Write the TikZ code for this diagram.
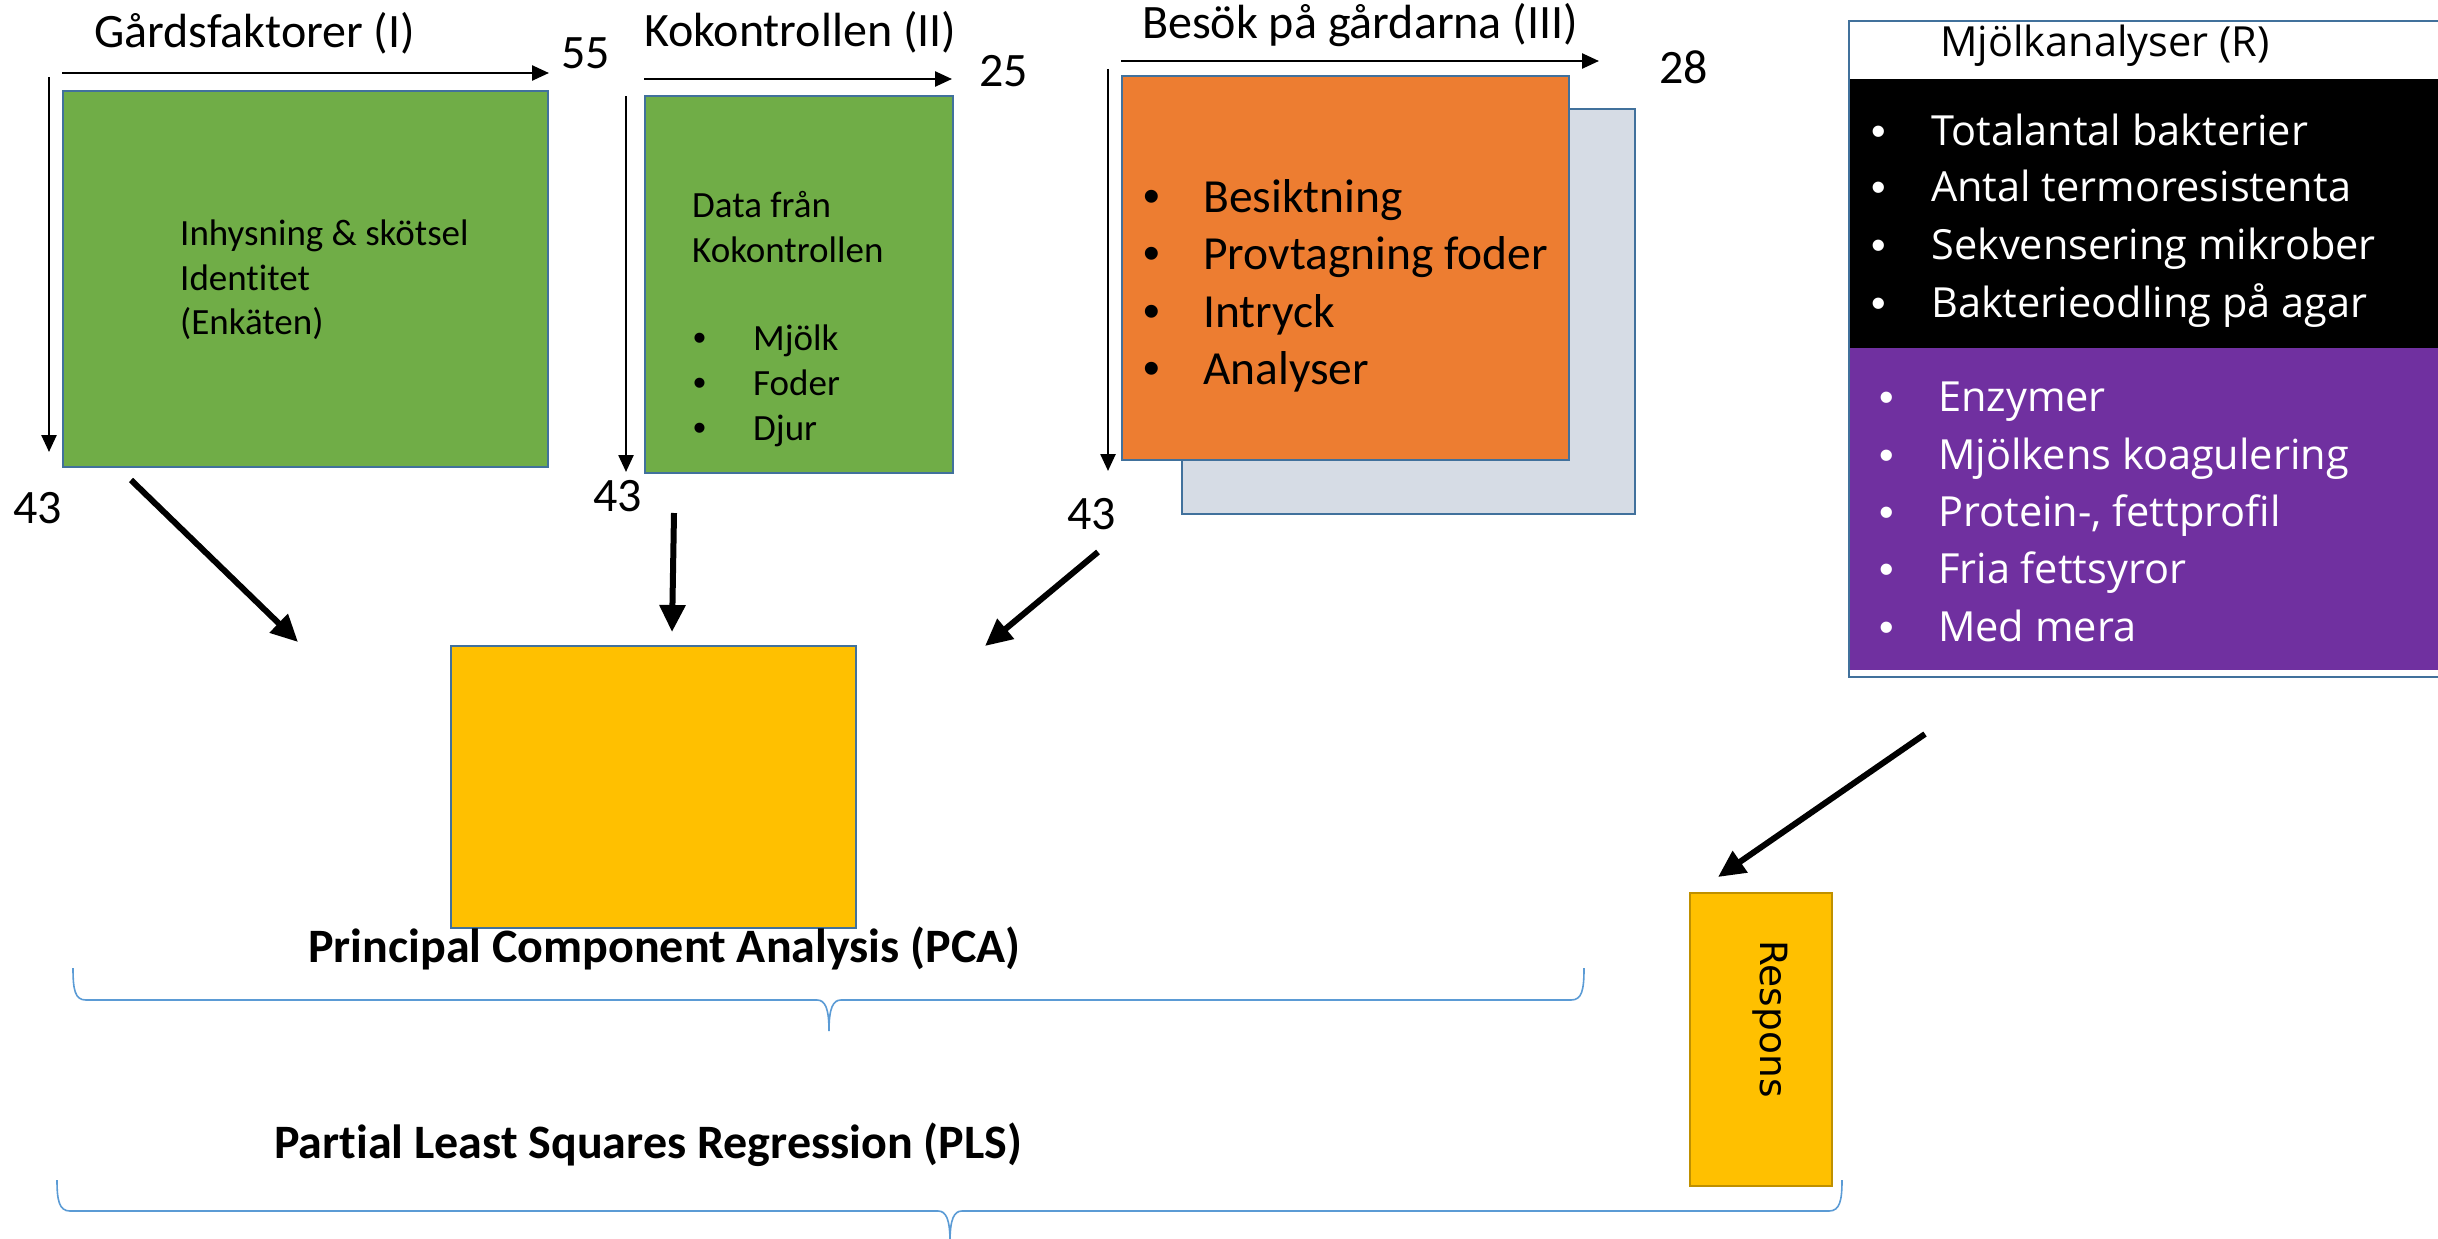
\documentclass[tikz,border=0pt]{standalone}
\usepackage{fontspec}
\setmainfont{Carlito}[Ligatures={NoCommon,NoContextual}]
\newfontfamily\osans{Open Sans}[Ligatures={NoCommon,NoContextual}]
\newfontfamily\dvs{DejaVu Sans}
\newfontfamily\bul{Liberation Sans}
\usetikzlibrary{arrows.meta}
\definecolor{cgreen}{HTML}{70AD47}
\definecolor{corange}{HTML}{ED7D31}
\definecolor{cshadow}{HTML}{D6DCE5}
\definecolor{cyellow}{HTML}{FFC000}
\definecolor{cpurple}{HTML}{7030A0}
\definecolor{cborder}{HTML}{41719C}
\definecolor{cgold}{HTML}{BF9000}
\definecolor{cbrace}{HTML}{5B9BD5}
\begin{document}
\begin{tikzpicture}[x=1pt,y=-1pt,
  box/.style={draw=cborder, line width=2pt, anchor=north west, inner sep=0pt},
  ttl/.style={anchor=base west, inner sep=0pt, font=\fontsize{48}{57}\selectfont},
  small/.style={anchor=base west, inner sep=0pt, font=\fontsize{37}{44}\selectfont},
  big/.style={anchor=base west, inner sep=0pt, font=\fontsize{47.5}{57}\selectfont},
  os/.style={anchor=base west, inner sep=0pt, text=white, font=\osans\fontsize{41.5}{50}\selectfont},
  bold/.style={anchor=base west, inner sep=0pt, font=\bfseries\fontsize{48}{57}\selectfont},
  axis/.style={line width=2.5pt, -{Triangle[length=17pt,width=15pt]}},
  flow/.style={line width=6pt, -{Triangle[length=27pt,width=25pt]}},
  brace/.style={draw=cbrace, line width=1.6pt}]
\useasboundingbox (0,0) rectangle (2438,1239);

% ---------- Block I ----------
\node[ttl] (t1) at (94,48) {Gårdsfaktorer (I)};
\coordinate (h1s) at (62,73); \coordinate (h1e) at (549,73);
\draw[axis] (h1s) -- (h1e);
\node[ttl] (n55) at (561,68) {55};
\coordinate (v1s) at (49,77); \coordinate (v1e) at (49,452);
\draw[axis] (v1s) -- (v1e);
\node[ttl] (n43a) at (13,523) {43};
\node[box, fill=cgreen, minimum width=485pt, minimum height=376pt] (g1) at (62,90) {};
\node[small] (g1a) at (180,245) {Inhysning \& skötsel};
\node[small] (g1b) at (180,290) {Identitet};
\node[small] (g1c) at (180,334) {(Enkäten)};

% ---------- Block II ----------
\node[ttl] (t2) at (644,47) {Kokontrollen (II)};
\coordinate (h2s) at (644,79); \coordinate (h2e) at (952,79);
\draw[axis] (h2s) -- (h2e);
\node[ttl] (n25) at (979,86) {25};
\coordinate (v2s) at (626,96); \coordinate (v2e) at (626,472);
\draw[axis] (v2s) -- (v2e);
\node[ttl] (n43b) at (593,511) {43};
\node[box, fill=cgreen, minimum width=308pt, minimum height=377pt] (g2) at (644,95) {};
\node[small] (g2a) at (692,217) {Data från};
\node[small] (g2b) at (692,262) {Kokontrollen};
\node[small, font=\bul\fontsize{37}{44}\selectfont] (g2c) at (693,350) {•};
\node[small] (g2d) at (753,350) {Mjölk};
\node[small, font=\bul\fontsize{37}{44}\selectfont] (g2e) at (693,395) {•};
\node[small] (g2f) at (753,395) {Foder};
\node[small, font=\bul\fontsize{37}{44}\selectfont] (g2g) at (693,440) {•};
\node[small] (g2h) at (753,440) {Djur};

% ---------- Block III ----------
\node[ttl] (t3) at (1142,39) {Besök på gårdarna (III)};
\coordinate (h3s) at (1121,61); \coordinate (h3e) at (1599,61);
\draw[axis] (h3s) -- (h3e);
\node[ttl] (n28) at (1659,84) {28};
\coordinate (v3s) at (1108,69); \coordinate (v3e) at (1108,471);
\draw[axis] (v3s) -- (v3e);
\node[ttl] (n43c) at (1067,529) {43};
\node[box, fill=cshadow, minimum width=453pt, minimum height=405pt] (sh) at (1181,108) {};
\node[box, fill=corange, minimum width=447pt, minimum height=384pt] (or) at (1121,75) {};
\tikzset{obul/.style={big, font=\bul\fontsize{47.5}{57}\selectfont}}
\node[obul] (o1b) at (1143,212) {•};
\node[big] (o1) at (1203,212) {Besiktning};
\node[obul] (o2b) at (1143,269) {•};
\node[big] (o2) at (1203,269) {Provtagning foder};
\node[obul] (o3b) at (1143,327) {•};
\node[big] (o3) at (1203,327) {Intryck};
\node[obul] (o4b) at (1143,384) {•};
\node[big] (o4) at (1203,384) {Analyser};

% ---------- Block R ----------
\node[box, fill=white, minimum width=600pt, minimum height=656pt] (rbox) at (1848,20) {};
\node[anchor=north west, fill=black, inner sep=0pt, minimum width=600pt, minimum height=269pt] (rblack) at (1850,79) {};
\node[anchor=north west, fill=cpurple, inner sep=0pt, minimum width=600pt, minimum height=322pt] (rpurple) at (1850,348) {};
\node[os, text=black] (tr) at (1940,57) {Mjölkanalyser (R)};
\tikzset{rbul/.style={os, font=\bul\fontsize{41.5}{50}\selectfont}}
\node[rbul] (k1b) at (1871,145) {•};
\node[os] (k1) at (1931,145) {Totalantal bakterier};
\node[rbul] (k2b) at (1871,201) {•};
\node[os] (k2) at (1931,201) {Antal termoresistenta};
\node[rbul] (k3b) at (1871,259) {•};
\node[os] (k3) at (1931,259) {Sekvensering mikrober};
\node[rbul] (k4b) at (1871,317) {•};
\node[os] (k4) at (1931,317) {Bakterieodling på agar};
\node[rbul] (p1b) at (1879,411) {•};
\node[os] (p1) at (1938,411) {Enzymer};
\node[rbul] (p2b) at (1879,469) {•};
\node[os] (p2) at (1938,469) {Mjölkens koagulering};
\node[rbul] (p3b) at (1879,526) {•};
\node[os] (p3) at (1938,526) {Protein-, fettprofil};
\node[rbul] (p4b) at (1879,583) {•};
\node[os] (p4) at (1938,583) {Fria fettsyror};
\node[rbul] (p5b) at (1879,641) {•};
\node[os] (p5) at (1938,641) {Med mera};

% ---------- PCA / PLS ----------
\node[box, fill=cyellow, minimum width=405pt, minimum height=282pt] (pca) at (450,645) {};
\node[bold] (pcat) at (308,962) {Principal Component Analysis (PCA)};
\node[bold] (plst) at (274,1158) {Partial Least Squares Regression (PLS)};
\node[draw=cgold, line width=2pt, fill=cyellow, anchor=north west, inner sep=0pt,
      minimum width=142pt, minimum height=293pt] (resp) at (1689,892) {};
\node[rotate=-90, inner sep=0pt, font=\dvs\fontsize{37.5}{44}\selectfont] (respt) at (1770,1019) {Respons};

% braces
\draw[brace] (73,968) .. controls (73,990) and (75,1000) .. (86,1000) -- (817,1000)
  .. controls (825,1000) and (829,1008) .. (829,1031)
  .. controls (829,1008) and (833,1000) .. (841,1000) -- (1571,1000)
  .. controls (1582,1000) and (1584,990) .. (1584,968);
\draw[brace] (57,1180) .. controls (57,1200) and (59,1211) .. (70,1211) -- (938,1211)
  .. controls (946,1211) and (950,1219) .. (950,1242)
  .. controls (950,1219) and (954,1211) .. (962,1211) -- (1829,1211)
  .. controls (1840,1211) and (1842,1200) .. (1842,1180);

% flow arrows
\coordinate (a1s) at (131,480); \coordinate (a1e) at (298,642);
\coordinate (a2s) at (674,513); \coordinate (a2e) at (672,632);
\coordinate (a3s) at (1098,552); \coordinate (a3e) at (985,646);
\coordinate (a4s) at (1925,734); \coordinate (a4e) at (1718,877);
\draw[flow] (a1s) -- (a1e);
\draw[flow] (a2s) -- (a2e);
\draw[flow] (a3s) -- (a3e);
\draw[flow] (a4s) -- (a4e);
\end{tikzpicture}
\end{document}
